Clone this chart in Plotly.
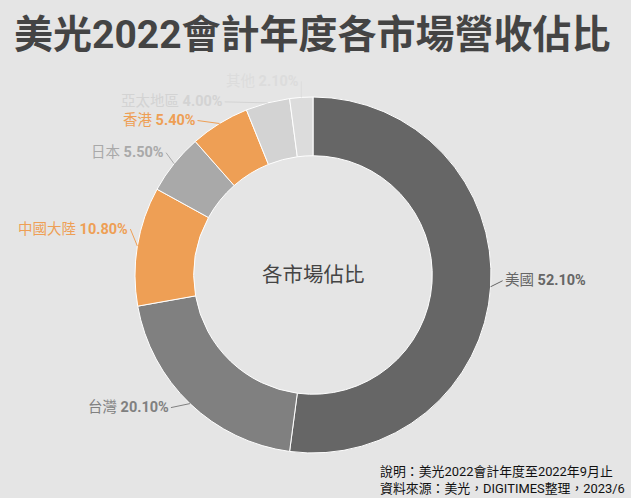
import math
import plotly.graph_objects as go

# 美光2022會計年度各市場營收佔比 (%)
regions = ['美國', '台灣', '中國大陸', '日本', '香港', '亞太地區', '其他']
shares = [52.10, 20.10, 10.80, 5.50, 5.40, 4.00, 2.10]
colors = ['#666666', '#808080', '#EE9F55', '#A9A9A9', '#EE9F55',
          '#D3D3D3', '#DCDCDC']

W, H = 631, 498
FONT = 'Roboto, Noto Sans CJK TC, sans-serif'

# pie placement (paper coords)
dom_x = [135 / W, 491 / W]
dom_y = [45 / H, 401 / H]
cx, cy = sum(dom_x) / 2, sum(dom_y) / 2
rx = (dom_x[1] - dom_x[0]) / 2
ry = (dom_y[1] - dom_y[0]) / 2

# label offsets from slice edge, in pixels (ax, ay, side)
label_pos = [(12, -6, 'left'), (-19, 4, 'right'), (-7, -17, 'right'),
             (-8, -11, 'right'), (-22, -3, 'right'), (-43, -1, 'right'),
             (0, -16, 'right')]

fig = go.Figure()
fig.add_trace(go.Pie(labels=regions,
                     values=shares,
                     sort=False,
                     direction='clockwise',
                     rotation=0,
                     hole=0.67,
                     marker=dict(colors=colors,
                                 line=dict(color='#FFFFFF', width=1)),
                     textinfo='none',
                     hoverinfo='label+percent',
                     showlegend=False,
                     domain=dict(x=dom_x, y=dom_y))
              )

# outside labels with leader lines, placed at each slice's mid angle
annotations = []
total = sum(shares)
cum = 0
for name, val, col, (ax, ay, side) in zip(regions, shares, colors, label_pos):
    mid = (cum + val / 2) / total * 2 * math.pi
    cum += val
    annotations.append(dict(
        x=cx + rx * math.sin(mid), y=cy + ry * math.cos(mid),
        xref='paper', yref='paper',
        text=f'{name} <b>{val:.2f}%</b>',
        showarrow=True, arrowhead=0, arrowwidth=1, arrowcolor=col,
        standoff=0, ax=ax, ay=ay, xanchor=side, yanchor='middle',
        font=dict(size=14.5, color=col, family=FONT)))

annotations += [
    dict(text='<b>美光2022會計年度各市場營收佔比</b>',
         x=12 / W, y=1 - 35 / H, xref='paper', yref='paper',
         xanchor='left', yanchor='middle', showarrow=False,
         font=dict(size=39, color='#444444')),
    dict(text='各市場佔比', x=cx, y=cy,
         xref='paper', yref='paper', showarrow=False,
         font=dict(size=20.5, color='#444444')),
    dict(text='說明：美光2022會計年度至2022年9月止<br>'
              '資料來源：美光，DIGITIMES整理，2023/6',
         x=378 / W, y=0.0, xref='paper', yref='paper',
         xanchor='left', yanchor='bottom', align='left',
         showarrow=False,
         font=dict(size=12.9, color='#111111')),
]

fig.update_layout(
    width=W, height=H,
    margin=dict(l=0, r=0, t=0, b=0),
    paper_bgcolor='#E5E5E5',
    plot_bgcolor='#E5E5E5',
    font=dict(family=FONT),
    annotations=annotations)

# drop the page's default body margin so the figure fills the window
fig.write_html('out.html', config={'displayModeBar': False},
               post_script="document.body.style.margin='0';")
